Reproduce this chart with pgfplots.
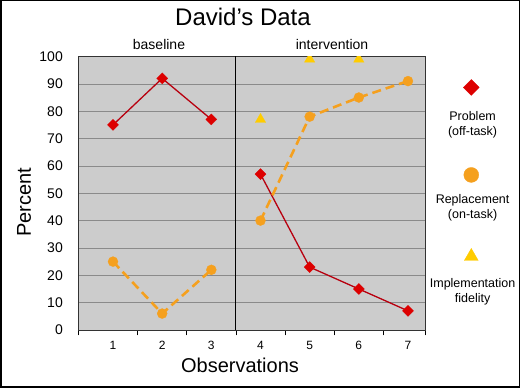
\documentclass[border=0pt]{standalone}
\usepackage{pgfplots}
\pgfplotsset{compat=1.18}
\usepackage{fontspec}
\setmainfont{Liberation Sans}
\definecolor{bggray}{HTML}{CCCCCC}
\definecolor{gridgray}{HTML}{8A8A8A}
\definecolor{probred}{HTML}{DD0000}
\definecolor{problinered}{HTML}{B8000F}
\definecolor{reporange}{HTML}{F5A01E}
\definecolor{fidyellow}{HTML}{FFCC00}
\begin{document}
\begin{tikzpicture}
\useasboundingbox (0,0) rectangle (520pt,388pt);
\fill[white] (0,0) rectangle (520pt,388pt);
\draw[line width=1.5pt] (0.75pt,0.75pt) rectangle (519.25pt,387.25pt);
\begin{axis}[
  at={(78pt,58pt)}, anchor=south west,
  scale only axis, width=347pt, height=273.5pt,
  xmin=0.288, xmax=7.346, ymin=0, ymax=100,
  xtick={1,...,7}, ytick={0,10,...,100},
  minor xtick={0.288,1.5,2.5,3.5,4.5,5.5,6.5,7.346},
  major tick length=0pt, minor tick length=5.5pt,
  tick align=outside, xtick pos=bottom, ytick pos=left,
  minor tick style={black, line width=0.6pt},
  ymajorgrids, grid style={gridgray, line width=0.6pt},
  axis background/.style={fill=bggray},
  axis line style={black!80, line width=0.8pt},
  /pgf/number format/assume math mode=true,
  xticklabel style={font=\fontsize{12}{14}\selectfont, anchor=base, inner sep=0pt, yshift=-20pt},
  yticklabel style={font=\fontsize{14}{16}\selectfont, anchor=east, inner sep=0pt, xshift=-15pt},
  clip marker paths=true,
  legend cell align=center,
  legend style={at={(axis description cs:1,0.854)}, anchor=north west, draw=none, fill=none,
    inner sep=0pt, outer sep=0pt, row sep=43.5pt, column sep=0pt,
    nodes={text width=90pt, align=center, inner sep=0pt, minimum height=40pt,
      font=\fontsize{12.5}{15}\selectfont}},
]
\addplot[problinered, line width=1.3pt, mark=square*, mark size=3.9pt,
  mark options={rotate=45, fill=probred, draw=probred, line width=0.3pt},
  legend image code/.code={\path (0,0); \draw[overlay, mark size=5.6pt] plot coordinates {(45pt,29pt)};}]
  coordinates {(1,75) (2,92) (3,77)};
\addlegendentry{Problem\\(off-task)}
\addplot[problinered, line width=1.3pt, mark=square*, mark size=3.9pt,
  mark options={rotate=45, fill=probred, draw=probred, line width=0.3pt}, forget plot]
  coordinates {(4,57) (5,23) (6,15) (7,7)};
\addplot[reporange, line width=2.6pt, dash pattern=on 9pt off 5pt, mark=*, mark size=5pt,
  mark options={solid, fill=reporange, draw=reporange, line width=0.3pt},
  legend image code/.code={\path (0,0); \draw[overlay, mark size=7.5pt] plot coordinates {(45pt,25pt)};}]
  coordinates {(1,25) (2,6) (3,22)};
\addlegendentry{Replacement\\(on-task)}
\addplot[reporange, line width=2.6pt, dash pattern=on 9pt off 5pt, mark=*, mark size=5pt,
  mark options={solid, fill=reporange, draw=reporange, line width=0.3pt}, forget plot]
  coordinates {(4,40) (5,78) (6,85) (7,91)};
\addplot[only marks, mark=triangle*, mark size=6pt,
  mark options={fill=fidyellow, draw=fidyellow, line width=0.3pt},
  legend image code/.code={\path (0,0); \draw[overlay, mark size=8pt] plot coordinates {(45pt,27pt)};}]
  coordinates {(4,77) (5,99) (6,99)};
\addlegendentry{Implementation\\fidelity}
\draw[black, line width=0.8pt] (axis cs:3.48,0) -- (axis cs:3.48,100);
\end{axis}
\node[anchor=base, font=\fontsize{24}{28}\selectfont] at (243pt,362pt) {David’s Data};
\node[anchor=base, font=\fontsize{14}{16}\selectfont] at (159pt,338.7pt) {baseline};
\node[anchor=base, font=\fontsize{14}{16}\selectfont] at (332pt,338.7pt) {intervention};
\node[rotate=90, anchor=base, font=\fontsize{20}{24}\selectfont] at (31pt,185.5pt) {Percent};
\node[anchor=base, font=\fontsize{20}{24}\selectfont] at (240pt,15pt) {Observations};
\end{tikzpicture}
\end{document}
